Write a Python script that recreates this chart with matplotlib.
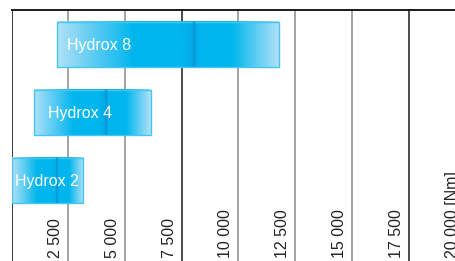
import matplotlib
matplotlib.use("Agg")
import matplotlib.pyplot as plt
import numpy as np
from matplotlib.colors import LinearSegmentedColormap

# Data
models = ["Hydrox 2", "Hydrox 4", "Hydrox 8"]
range_start = [0, 1000, 2000]
range_mid = [2000, 4170, 8050]
range_end = [3150, 6150, 11780]
ticks = [2500, 5000, 7500, 10000, 12500, 15000, 17500, 20000]
tick_labels = ["2 500", "5 000", "7 500", "10 000", "12 500", "15 000", "17 500", "20 000 [Nm]"]

W, H = 455, 261
fig = plt.figure(figsize=(W / 100, H / 100), dpi=100)
x0 = 11.6
ax = fig.add_axes([x0 / W, 0, (W - x0) / W, (H - 10) / H])
ppu = 56.7 / 2500
ax.set_xlim(0, (W - x0) / ppu)
ax.set_ylim(-1.184, 2.507)
ax.axis("off")

font = "Liberation Sans"
dark_lines = {7500, 17500}
for t in ticks:
    c = "#1a1a1a" if t in dark_lines else "#8a8a8a"
    ax.axvline(t, color=c, lw=1.1, zorder=1, clip_on=False)
ax.axvline(0, color="#1a1a1a", lw=1.2, zorder=1)
ax.axhline(2.507, color="#1a1a1a", lw=1.4, zorder=1, clip_on=False)

for t, lab in zip(ticks, tick_labels):
    ax.text(t - 12.5 / ppu, -1.184 + 3 / 68, lab, rotation=90, ha="center", va="bottom",
            fontsize=11.5, color="#222222", family=font, zorder=2, clip_on=False)

light = "#b2e1f8"
sat = "#00b6ee"
deep = "#00a8e6"
cmap_left = LinearSegmentedColormap.from_list("l", [(0, light), (0.55, sat), (0.9, sat), (1, deep)])
cmap_right = LinearSegmentedColormap.from_list("r", [(0, deep), (0.08, sat), (0.45, sat), (1, light)])
grad = np.linspace(0, 1, 256).reshape(1, -1)

bh = 45 / 68
pads = [3, 14, 10]
for i, (m, s, mid, e) in enumerate(zip(models, range_start, range_mid, range_end)):
    y0, y1 = i - bh / 2, i + bh / 2
    ax.imshow(grad, cmap=cmap_left, aspect="auto", extent=[s, mid, y0, y1], zorder=3,
              interpolation="bicubic")
    ax.imshow(grad, cmap=cmap_right, aspect="auto", extent=[mid, e, y0, y1], zorder=3,
              interpolation="bicubic")
    ax.add_patch(plt.Rectangle((s, y0), e - s, bh, fill=False, ec="#45c6f0", lw=1.0, zorder=4))
    ax.plot([mid, mid], [y0, y1], color="#0a9ad8", lw=1.6, zorder=4, solid_capstyle="butt")
    ax.text(s + pads[i] / ppu, i - 0.01, m, color="white", fontsize=11.5, family=font,
            ha="left", va="center", zorder=5)

ax.set_xlim(0, (W - x0) / ppu)
ax.set_ylim(-1.184, 2.507)
fig.savefig("out.png", dpi=100)
